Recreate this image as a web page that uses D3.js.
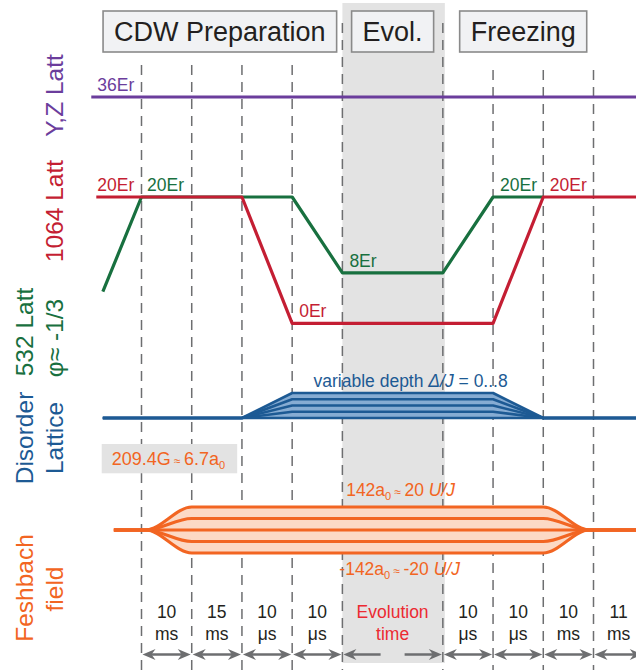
<!DOCTYPE html>
<html>
<head>
<meta charset="utf-8">
<script src="https://cdn.jsdelivr.net/npm/d3@7"></script>
<style>
  body { margin: 0; background: #fff; }
  svg { display: block; }
  text { font-family: "Liberation Sans", Arial, Helvetica, sans-serif; }
</style>
</head>
<body>
<svg id="chart" width="636" height="670"></svg>
<script>
// ---- Sequence data -------------------------------------------------------
// Step durations along the time axis (grid units per step)
const stepValues = ["10", "15", "10", "10", "Evolution", "10", "10", "10", "11"];
const stepUnits  = ["ms", "ms", "μs", "μs", "time", "μs", "μs", "ms", "ms"];
const stepSpans  = [1, 1, 1, 1, 2, 1, 1, 1, 1];

// Phase titles
const phaseNames = ["CDW Preparation", "Evol.", "Freezing"];

// Lattice depths in Er: [grid time, depth]
const yzLatt   = [[-1.0, 36], [9.85, 36]];
const latt1064 = [[-0.9, 20], [2, 20], [3, 0], [7, 0], [8, 20], [9.85, 20]];
const latt532  = [[-0.77, 5], [0, 20], [3, 20], [4, 8], [6, 8], [7, 20], [8, 20]];

// Disorder lattice: depth levels Δ/J and ramp fraction over time
const disorderDepths = [0, 2, 4, 6, 8];
const disorderRamp   = [[-0.77, 0], [2, 0], [3, 1], [7, 1], [8, 0], [9.85, 0]];

// Feshbach field: interaction levels U/J and ramp fraction over time
const feshbachLevels = [20, 10, 0, -10, -20];
const feshbachRamp   = [[-0.55, 0], [0.08, 0], [1, 1], [8, 1], [8.92, 0], [9.85, 0]];

// ---- Colours -------------------------------------------------------------
const C = {
  purple: "#6b3d9c",
  red: "#c41e33",
  green: "#18703f",
  blue: "#1d5a94",
  blueFill: "#86acd3",
  orange: "#f26522",
  orangeFill: "#fcd9c5",
  grid: "#6d6e70",
  band: "#e3e3e3",
  text: "#231f20",
  evo: "#ec2a32"
};

const svg = d3.select("#chart");
const FONT_LABEL = 17.5;

// ---- Scales --------------------------------------------------------------
const x      = d3.scaleLinear().domain([0, 9]).range([141.5, 593.5]);
const yYZ    = d3.scaleLinear().domain([0, 36]).range([140, 97]);
const yLatt  = d3.scaleLinear().domain([0, 20]).range([323.3, 197]);
const yDis   = d3.scaleLinear().domain([0, 8]).range([418, 393]);
const yFesh  = d3.scaleLinear().domain([-20, 20]).range([553, 507]);

// step boundaries in grid units
const bounds = [0];
stepSpans.forEach(s => bounds.push(bounds[bounds.length - 1] + s));
const evoIndex = stepValues.indexOf("Evolution");

// ---- Evolution band ------------------------------------------------------
svg.append("rect")
  .attr("x", x(bounds[evoIndex]))
  .attr("y", 3)
  .attr("width", x(bounds[evoIndex + 1]) - x(bounds[evoIndex]) + 2)
  .attr("height", 660)
  .attr("fill", C.band);

// ---- Dashed step boundaries ---------------------------------------------
bounds.slice(0, bounds.length - 1).forEach((b, i) => {
  const top = (i === evoIndex || i === evoIndex + 1) ? 23 : (i < evoIndex ? 65 : 70);
  svg.append("line")
    .attr("x1", x(b)).attr("x2", x(b))
    .attr("y1", top).attr("y2", 670)
    .attr("stroke", C.grid)
    .attr("stroke-width", 1.5)
    .attr("stroke-dasharray", "10,7");
});

// ---- Phase title boxes ---------------------------------------------------
const phaseCenters = [1.56, 5, 7.6];
phaseNames.forEach((name, i) => {
  const g = svg.append("g");
  const t = g.append("text")
    .attr("x", x(phaseCenters[i]))
    .attr("y", 41)
    .attr("text-anchor", "middle")
    .attr("font-size", 27)
    .attr("fill", C.text)
    .text(name);
  const w = t.node().getComputedTextLength() + 22;
  g.insert("rect", "text")
    .attr("x", x(phaseCenters[i]) - w / 2)
    .attr("y", 11)
    .attr("width", w)
    .attr("height", 41)
    .attr("fill", "#f1f2f4")
    .attr("stroke", "#8a8a8a")
    .attr("stroke-width", 1.6);
});

// ---- Lattice ramps -------------------------------------------------------
const lineOf = (ys) => d3.line().x(d => x(d[0])).y(d => ys(d[1]));

svg.append("path").datum(yzLatt)
  .attr("d", lineOf(yYZ)).attr("fill", "none")
  .attr("stroke", C.purple).attr("stroke-width", 3.2);

svg.append("path").datum(latt532)
  .attr("d", lineOf(yLatt)).attr("fill", "none")
  .attr("stroke", C.green).attr("stroke-width", 3.2)
  .attr("stroke-linejoin", "round");

svg.append("path").datum(latt1064)
  .attr("d", lineOf(yLatt)).attr("fill", "none")
  .attr("stroke", C.red).attr("stroke-width", 3.2)
  .attr("stroke-linejoin", "round");

// depth labels
function erLabel(text, px, py, color) {
  svg.append("text")
    .attr("x", px).attr("y", py)
    .attr("font-size", FONT_LABEL)
    .attr("fill", color)
    .text(text);
}
erLabel(`${yzLatt[0][1]}Er`, x(yzLatt[0][0]) + 6, yYZ(yzLatt[0][1]) - 6, C.purple);
erLabel(`${latt1064[0][1]}Er`, x(latt1064[0][0]) + 1, yLatt(latt1064[0][1]) - 6, C.red);
erLabel(`${latt532[1][1]}Er`, x(latt532[1][0]) + 5.5, yLatt(latt532[1][1]) - 6, C.green);
erLabel(`${latt532[3][1]}Er`, x(latt532[3][0]) + 7, yLatt(latt532[3][1]) - 6, C.green);
erLabel(`${latt1064[2][1]}Er`, x(latt1064[2][0]) + 7, yLatt(latt1064[2][1]) - 6, C.red);
erLabel(`${latt532[5][1]}Er`, x(latt532[5][0]) + 7, yLatt(latt532[5][1]) - 6, C.green);
erLabel(`${latt1064[4][1]}Er`, x(latt1064[4][0]) + 6.5, yLatt(latt1064[4][1]) - 6, C.red);

// ---- Disorder lattice ----------------------------------------------------
const maxDepth = d3.max(disorderDepths);
svg.append("path").datum(disorderRamp)
  .attr("d", d3.area()
    .x(d => x(d[0]))
    .y0(yDis(0))
    .y1(d => yDis(maxDepth * d[1])))
  .attr("fill", C.blueFill);

disorderDepths.slice().reverse().forEach(depth => {
  svg.append("path").datum(disorderRamp)
    .attr("d", d3.line().x(d => x(d[0])).y(d => yDis(depth * d[1])))
    .attr("fill", "none")
    .attr("stroke", C.blue)
    .attr("stroke-width", 2.6)
    .attr("stroke-linejoin", "round");
});

const disText = svg.append("text")
  .attr("x", x(5) + 18).attr("y", yDis(maxDepth) - 6.5)
  .attr("text-anchor", "middle")
  .attr("font-size", FONT_LABEL)
  .attr("fill", C.blue);
disText.append("tspan").text("variable depth ");
disText.append("tspan").attr("font-style", "italic").text("Δ/J");
disText.append("tspan").text(` = ${d3.min(disorderDepths)}...${maxDepth}`);

// ---- Feshbach field ------------------------------------------------------
const maxU = d3.max(feshbachLevels);
svg.append("path").datum(feshbachRamp)
  .attr("d", d3.area()
    .curve(d3.curveMonotoneX)
    .x(d => x(d[0]))
    .y0(d => yFesh(-maxU * d[1]))
    .y1(d => yFesh(maxU * d[1])))
  .attr("fill", C.orangeFill);

feshbachLevels.forEach(u => {
  svg.append("path").datum(feshbachRamp)
    .attr("d", d3.line().curve(d3.curveMonotoneX)
      .x(d => x(d[0])).y(d => yFesh(u * d[1])))
    .attr("fill", "none")
    .attr("stroke", C.orange)
    .attr("stroke-width", 3);
});

// scattering length annotations
function scatLabel(sel, a0, ujText) {
  sel.append("tspan").text(a0 + "a");
  sel.append("tspan").attr("font-size", 11).attr("dy", 4).text("0");
  sel.append("tspan").attr("font-size", 12).attr("dy", -4).text(" ≈ ");
  sel.append("tspan").text(ujText + " ");
  sel.append("tspan").attr("font-style", "italic").text("U/J");
}
scatLabel(svg.append("text")
  .attr("x", x(5) + 8).attr("y", yFesh(maxU) - 11)
  .attr("text-anchor", "middle").attr("font-size", FONT_LABEL)
  .attr("fill", C.orange), "142", String(maxU));
scatLabel(svg.append("text")
  .attr("x", x(5) + 7).attr("y", yFesh(-maxU) + 22)
  .attr("text-anchor", "middle").attr("font-size", FONT_LABEL)
  .attr("fill", C.orange), "-142", String(-maxU));

// resonance offset tag
const tagG = svg.append("g");
const tag = tagG.append("text")
  .attr("x", 111.7).attr("y", 465)
  .attr("font-size", 18)
  .attr("fill", C.orange);
tag.append("tspan").text("209.4G");
tag.append("tspan").attr("font-size", 12).text(" ≈ ");
tag.append("tspan").text("6.7a");
tag.append("tspan").attr("font-size", 11).attr("dy", 4).text("0");
const tagBox = tag.node().getBBox();
tagG.insert("rect", "text")
  .attr("x", 101.7).attr("y", 444)
  .attr("width", tagBox.x + tagBox.width + 12 - 101.7)
  .attr("height", 29.3)
  .attr("fill", C.band);

// ---- Row labels ----------------------------------------------------------
const rowLabels = [
  { text: "Y,Z Latt", col: 1, cy: 95.5, color: C.purple },
  { text: "1064 Latt", col: 1, cy: 211, color: C.red },
  { text: "532 Latt", col: 0, cy: 332, color: C.green },
  { text: "φ≈ -1/3", col: 1, cy: 338, color: C.green },
  { text: "Disorder", col: 0, cy: 438, color: C.blue },
  { text: "Lattice", col: 1, cy: 438, color: C.blue },
  { text: "Feshbach", col: 0, cy: 588, color: C.orange },
  { text: "field", col: 1, cy: 589, color: C.orange }
];
const colX = [33, 63];
rowLabels.forEach(r => {
  svg.append("text")
    .attr("transform", `translate(${colX[r.col]},${r.cy}) rotate(-90)`)
    .attr("text-anchor", "middle")
    .attr("font-size", 24.5)
    .attr("fill", r.color)
    .text(r.text);
});

// ---- Step durations and arrows ------------------------------------------
const arrowY = 654.5;
function head(tip, dir) {
  // dir = -1 points left, +1 points right
  const back = tip - dir * 13;
  const notch = tip - dir * 9;
  return `M${tip},${arrowY} L${back},${arrowY - 5.5} L${notch},${arrowY} L${back},${arrowY + 5.5} Z`;
}
stepValues.forEach((v, i) => {
  const x0 = x(bounds[i]), x1 = x(bounds[i + 1]);
  const cx = (x0 + x1) / 2;
  const isEvo = i === evoIndex;
  const col = isEvo ? C.evo : C.text;
  svg.append("text")
    .attr("x", cx).attr("y", 618)
    .attr("text-anchor", "middle").attr("font-size", FONT_LABEL)
    .attr("fill", col).text(v);
  svg.append("text")
    .attr("x", cx).attr("y", 639.5)
    .attr("text-anchor", "middle").attr("font-size", FONT_LABEL)
    .attr("fill", col).text(stepUnits[i]);

  const g = svg.append("g").attr("fill", C.grid).attr("stroke", C.grid);
  if (isEvo) {
    g.append("line").attr("x1", x0 + 9).attr("x2", cx - 12)
      .attr("y1", arrowY).attr("y2", arrowY).attr("stroke-width", 2.5);
    g.append("line").attr("x1", cx + 12).attr("x2", x1 - 9)
      .attr("y1", arrowY).attr("y2", arrowY).attr("stroke-width", 2.5);
  } else {
    g.append("line").attr("x1", x0 + 9).attr("x2", x1 - 9)
      .attr("y1", arrowY).attr("y2", arrowY).attr("stroke-width", 2.5);
  }
  g.append("path").attr("d", head(x0 + 1, -1)).attr("stroke", "none");
  g.append("path").attr("d", head(x1 - 1, 1)).attr("stroke", "none");
});
</script>
</body>
</html>
